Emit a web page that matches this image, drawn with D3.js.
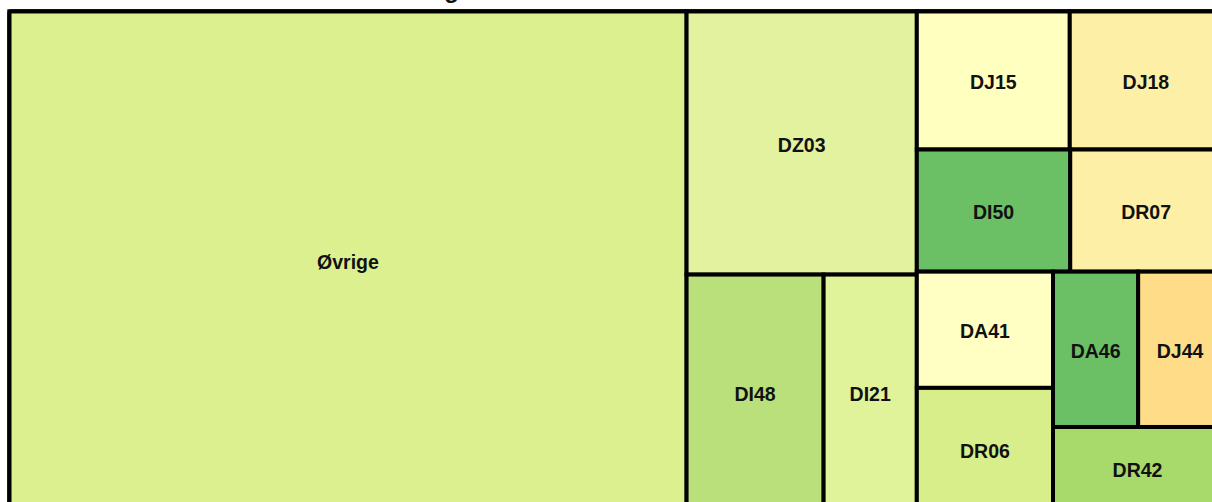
<!DOCTYPE html>
<html>
<head>
<meta charset="utf-8">
<script src="https://cdn.jsdelivr.net/npm/d3@7"></script>
<style>
  html, body { margin: 0; padding: 0; background: #fff; overflow: hidden; }
  svg { display: block; }
  .cell-label { font-family: "Liberation Sans", Arial, sans-serif; font-weight: bold; font-size: 19.5px; fill: #111; }
  .title { font-family: "Liberation Sans", Arial, sans-serif; font-weight: bold; font-size: 24px; fill: #111; }
</style>
</head>
<body>
<div id="treemap"></div>
<script>
// categories and their sizes
var categories = ["Øvrige", "DZ03", "DI48", "DI21", "DJ15", "DJ18", "DI50", "DR07", "DA41", "DR06", "DA46", "DJ44", "DR42"];
var values = [3371, 605, 322, 219, 211, 210, 187, 185, 158, 166, 132, 130, 140];
var fills = ["#dcf08f", "#e3f29f", "#b9e07a", "#e0f29a", "#ffffc0", "#feefa7", "#6bbf64", "#feefa7", "#ffffc4", "#d8ee8b", "#6bbf64", "#fedc88", "#a7da6b"];

// how the tiles are nested (h = side by side, v = stacked)
var nesting = { dir: "h", children: [
    "Øvrige",
    { dir: "h", children: [
        { dir: "v", children: ["DZ03", { dir: "h", children: ["DI48", "DI21"] }] },
        { dir: "v", children: [
            { dir: "h", children: ["DJ15", "DJ18"] },
            { dir: "h", children: ["DI50", "DR07"] },
            { dir: "h", children: [
                { dir: "v", children: ["DA41", "DR06"] },
                { dir: "v", children: [{ dir: "h", children: ["DA46", "DJ44"] }, "DR42"] }
            ] }
        ] }
    ] }
] };

var width = 1212, height = 502;
var area = { left: 9.3, top: 11.3, right: 1222, bottom: 510 };

function toNode(d) {
    if (typeof d === "string") {
        var i = categories.indexOf(d);
        return { name: d, value: values[i], fill: fills[i] };
    }
    return { dir: d.dir, children: d.children.map(toNode) };
}

var root = d3.hierarchy(toNode(nesting))
    .sum(function (d) { return d.children ? 0 : d.value; });

d3.treemap()
    .size([area.right - area.left, area.bottom - area.top])
    .tile(function (node, x0, y0, x1, y1) {
        (node.data.dir === "h" ? d3.treemapDice : d3.treemapSlice)(node, x0, y0, x1, y1);
    })(root);

var svg = d3.select("#treemap").append("svg")
    .attr("width", width)
    .attr("height", height);

// title (mostly above the visible area)
svg.append("text")
    .attr("class", "title")
    .attr("x", 459)
    .attr("y", -2.5)
    .attr("text-anchor", "end")
    .text("Fordeling");

var g = svg.append("g")
    .attr("transform", "translate(" + area.left + "," + area.top + ")");

var leaf = g.selectAll("g.leaf")
    .data(root.leaves())
    .enter().append("g")
    .attr("class", "leaf");

leaf.append("rect")
    .attr("x", function (d) { return d.x0; })
    .attr("y", function (d) { return d.y0; })
    .attr("width", function (d) { return d.x1 - d.x0; })
    .attr("height", function (d) { return d.y1 - d.y0; })
    .attr("fill", function (d) { return d.data.fill; })
    .attr("stroke", "#000")
    .attr("stroke-width", 4);

leaf.append("text")
    .attr("class", "cell-label")
    .attr("x", function (d) { return (d.x0 + d.x1) / 2; })
    .attr("y", function (d) { return (d.y0 + d.y1) / 2; })
    .attr("dy", "0.44em")
    .attr("text-anchor", "middle")
    .text(function (d) { return d.data.name; });

// outer border
g.append("rect")
    .attr("x", root.x0)
    .attr("y", root.y0)
    .attr("width", root.x1 - root.x0)
    .attr("height", root.y1 - root.y0)
    .attr("fill", "none")
    .attr("stroke", "#000")
    .attr("stroke-width", 4)
    .attr("stroke-linejoin", "round")
    .attr("rx", 2);
</script>
</body>
</html>
